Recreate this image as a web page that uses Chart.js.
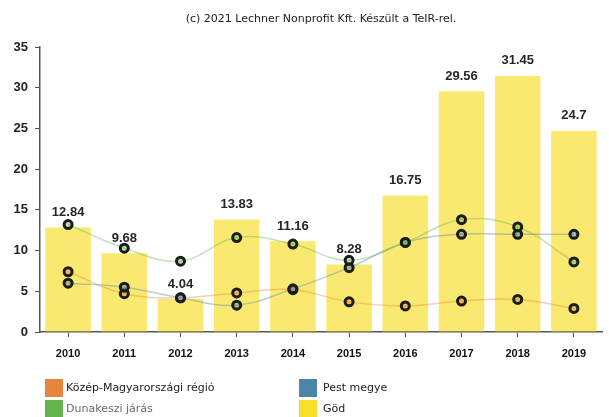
<!DOCTYPE html>
<html>
<head>
<meta charset="utf-8">
<script src="https://cdn.jsdelivr.net/npm/chart.js@4.4.1/dist/chart.umd.min.js"></script>
<style>
  html, body { margin: 0; padding: 0; background: #ffffff; }
  #wrap { position: relative; width: 609px; height: 417px; }
</style>
</head>
<body>
<div id="wrap"><canvas id="gdpChart" width="609" height="417"></canvas></div>
<script>
// data
const years = ['2010', '2011', '2012', '2013', '2014', '2015', '2016', '2017', '2018', '2019']
const godValues = [12.84, 9.68, 4.04, 13.83, 11.16, 8.28, 16.75, 29.56, 31.45, 24.7]
const kozepValues = [7.4, 4.7, 4.2, 4.8, 5.2, 3.7, 3.2, 3.8, 4.0, 2.9]
const dunakesziValues = [13.2, 10.3, 8.7, 11.6, 10.8, 8.8, 11.0, 13.8, 12.9, 8.6]
const pestValues = [6.0, 5.5, 4.2, 3.3, 5.3, 7.9, 11.0, 12.0, 12.0, 12.0]
const yTicks = [0, 5, 10, 15, 20, 25, 30, 35]
const titleText = '(c) 2021 Lechner Nonprofit Kft. Készült a TeIR-rel.'

const seriesNames = {
  kozep: 'Közép-Magyarországi régió',
  dunakeszi: 'Dunakeszi járás',
  pest: 'Pest megye',
  god: 'Göd'
}

const colors = {
  kozep: '#e9843d',
  dunakeszi: '#63b54b',
  pest: '#4d85a6',
  god: '#f7df2c'
}

const withAlpha = (hex, a) => {
  const n = parseInt(hex.slice(1), 16)
  return `rgba(${(n >> 16) & 255}, ${(n >> 8) & 255}, ${n & 255}, ${a})`
}

const lineSet = (key, values) => ({
  type: 'line',
  label: seriesNames[key],
  data: values,
  order: 0,
  borderColor: withAlpha(colors[key], 0.4),
  borderWidth: 1.5,
  tension: 0.4,
  pointRadius: 4,
  pointBorderWidth: 3,
  pointBorderColor: '#1b1b1b',
  pointBackgroundColor: withAlpha(colors[key], 0.45),
  pointHoverRadius: 4
})

// bar values above each bar
const barValuePlugin = {
  id: 'barValues',
  afterDatasetsDraw(chart) {
    const ctx = chart.ctx
    chart.data.datasets.forEach((ds, i) => {
      if (ds.type !== 'bar') return
      const meta = chart.getDatasetMeta(i)
      ctx.save()
      ctx.font = 'bold 13px "Liberation Sans", Arial, sans-serif'
      ctx.fillStyle = '#262626'
      ctx.textAlign = 'center'
      ctx.textBaseline = 'middle'
      meta.data.forEach((bar, j) => {
        ctx.fillText(String(ds.data[j]), bar.x, bar.y - 15)
      })
      ctx.restore()
    })
  }
}

// small caption on top, centred over the plot
const captionPlugin = {
  id: 'caption',
  afterDraw(chart) {
    const ctx = chart.ctx
    const area = chart.chartArea
    ctx.save()
    ctx.font = '11px "DejaVu Sans", sans-serif'
    ctx.fillStyle = '#222222'
    ctx.textAlign = 'center'
    ctx.textBaseline = 'middle'
    ctx.fillText(titleText, (area.left + area.right) / 2, 19)
    ctx.restore()
  }
}

// legend in two columns below the axis
const gridLegendPlugin = {
  id: 'gridLegend',
  afterDraw(chart) {
    const ctx = chart.ctx
    const order = ['kozep', 'dunakeszi', 'pest', 'god']
    ctx.save()
    ctx.font = '11px "DejaVu Sans", sans-serif'
    ctx.textBaseline = 'middle'
    ctx.textAlign = 'left'
    order.forEach((key, i) => {
      const col = Math.floor(i / 2)
      const row = i % 2
      const x = col === 0 ? 45 : 299
      const y = 379 + row * 21
      ctx.fillStyle = colors[key]
      ctx.fillRect(x, y, 18, 18)
      ctx.fillStyle = key === 'dunakeszi' ? '#6a6a6a' : '#222222'
      ctx.fillText(seriesNames[key], x + (col === 0 ? 21 : 24), y + 9)
    })
    ctx.restore()
  }
}

const ctx = document.getElementById('gdpChart').getContext('2d')

new Chart(ctx, {
  data: {
    labels: years,
    datasets: [
      lineSet('dunakeszi', dunakesziValues),
      lineSet('pest', pestValues),
      lineSet('kozep', kozepValues),
      {
        type: 'bar',
        label: seriesNames.god,
        data: godValues,
        order: 1,
        backgroundColor: withAlpha(colors.god, 0.68),
        borderWidth: 0,
        categoryPercentage: 1,
        barPercentage: 0.81
      }
    ]
  },
  options: {
    responsive: false,
    animation: false,
    layout: {
      padding: { top: 47, left: 0, right: 0, bottom: 0 }
    },
    plugins: {
      legend: { display: false },
      title: { display: false },
      tooltip: { enabled: false }
    },
    scales: {
      x: {
        grid: {
          offset: false,
          drawOnChartArea: false,
          drawTicks: true,
          tickLength: 5,
          tickColor: '#555555'
        },
        border: { display: true, color: '#555555', width: 1.5 },
        ticks: {
          color: '#111111',
          padding: 10,
          font: { family: '"Liberation Sans", Arial, sans-serif', size: 11, weight: 'bold' }
        },
        afterFit: (s) => { s.height = 85 }
      },
      y: {
        min: 0,
        max: 35,
        afterBuildTicks: (s) => { s.ticks = yTicks.map(v => ({ value: v })) },
        grid: {
          drawOnChartArea: false,
          drawTicks: true,
          tickLength: 5,
          tickColor: '#555555'
        },
        border: { display: true, color: '#555555', width: 1.5 },
        ticks: {
          color: '#222222',
          padding: 7,
          font: { family: '"Liberation Sans", Arial, sans-serif', size: 13, weight: 'bold' }
        },
        afterFit: (s) => { s.width = 40 }
      }
    }
  },
  plugins: [barValuePlugin, captionPlugin, gridLegendPlugin]
})
</script>
</body>
</html>
